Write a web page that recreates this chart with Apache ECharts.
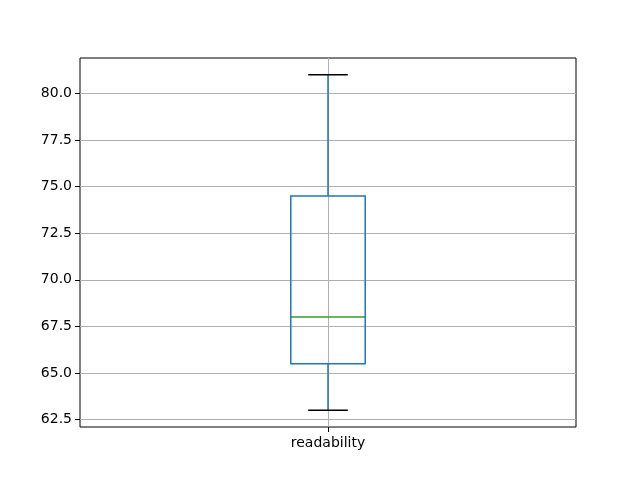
<!DOCTYPE html>
<html>
<head>
<meta charset="utf-8">
<script src="https://cdn.jsdelivr.net/npm/echarts@6/dist/echarts.min.js"></script>
<style>html,body{margin:0;padding:0;background:#fff}#c{width:640px;height:480px}</style>
</head>
<body>
<div id="c"></div>
<script>
var categories = ['readability'];
var whiskerLow = [63.0];
var q1 = [65.5];
var median = [68.0];
var q3 = [74.5];
var whiskerHigh = [81.0];
var yTicks = [62.5, 65.0, 67.5, 70.0, 72.5, 75.0, 77.5, 80.0];

var data = categories.map(function (c, i) {
  return [i + 1, whiskerLow[i], q1[i], median[i], q3[i], whiskerHigh[i]];
});

var chart = echarts.init(document.getElementById('c'), null, {renderer: 'canvas'});
var font = 'DejaVu Sans';
chart.setOption({
  animation: false,
  backgroundColor: '#ffffff',
  grid: {left: 80, right: 64, top: 58, bottom: 53, show: true, borderColor: '#000', borderWidth: 1, backgroundColor: 'transparent'},
  xAxis: {
    type: 'value', min: 0.5, max: 1.5, interval: 0.5,
    axisLine: {show: false},
    axisTick: {show: true, length: 5, lineStyle: {color: '#000', width: 1}, customValues: [1]},
    axisLabel: {color: '#000', fontFamily: font, fontSize: 14, margin: 9, customValues: [1],
      formatter: function (v) { var i = Math.round(v) - 1; return (Math.abs(v - Math.round(v)) < 1e-6 && categories[i]) ? categories[i] : ''; }},
    splitLine: {show: true, lineStyle: {color: '#b0b0b0', width: 1}}
  },
  yAxis: {
    type: 'value', min: 62.1, max: 81.9,
    axisLine: {show: false},
    axisTick: {show: true, length: 5, lineStyle: {color: '#000', width: 1}, customValues: yTicks},
    axisLabel: {color: '#000', fontFamily: font, fontSize: 14, margin: 8, customValues: yTicks,
      formatter: function (v) { return v.toFixed(1); }},
    splitLine: {show: true, lineStyle: {color: '#b0b0b0', width: 1}}
  },
  series: [{
    type: 'custom',
    data: data,
    z: 5,
    encode: {x: 0, y: [1, 2, 3, 4, 5]},
    renderItem: function (params, api) {
      var x = api.value(0);
      var boxW = api.size([0.15, 0])[0];
      var capW = api.size([0.08, 0])[0];
      var pLow = api.coord([x, api.value(1)]);
      var pQ1 = api.coord([x, api.value(2)]);
      var pMed = api.coord([x, api.value(3)]);
      var pQ3 = api.coord([x, api.value(4)]);
      var pHigh = api.coord([x, api.value(5)]);
      var cx = pQ1[0];
      var blue = '#1f77b4';
      return {
        type: 'group',
        children: [
          {type: 'line', shape: {x1: cx, y1: pQ1[1], x2: cx, y2: pLow[1]}, style: {stroke: blue, lineWidth: 1.5}},
          {type: 'line', shape: {x1: cx, y1: pQ3[1], x2: cx, y2: pHigh[1]}, style: {stroke: blue, lineWidth: 1.5}},
          {type: 'line', shape: {x1: cx - capW / 2, y1: pLow[1], x2: cx + capW / 2, y2: pLow[1]}, style: {stroke: '#000', lineWidth: 1.5}},
          {type: 'line', shape: {x1: cx - capW / 2, y1: pHigh[1], x2: cx + capW / 2, y2: pHigh[1]}, style: {stroke: '#000', lineWidth: 1.5}},
          {type: 'rect', shape: {x: cx - boxW / 2, y: pQ3[1], width: boxW, height: pQ1[1] - pQ3[1]}, style: {fill: 'none', stroke: blue, lineWidth: 1.5}},
          {type: 'line', shape: {x1: cx - boxW / 2, y1: pMed[1], x2: cx + boxW / 2, y2: pMed[1]}, style: {stroke: '#2ca02c', lineWidth: 1.5}}
        ]
      };
    }
  }]
});
</script>
</body>
</html>
